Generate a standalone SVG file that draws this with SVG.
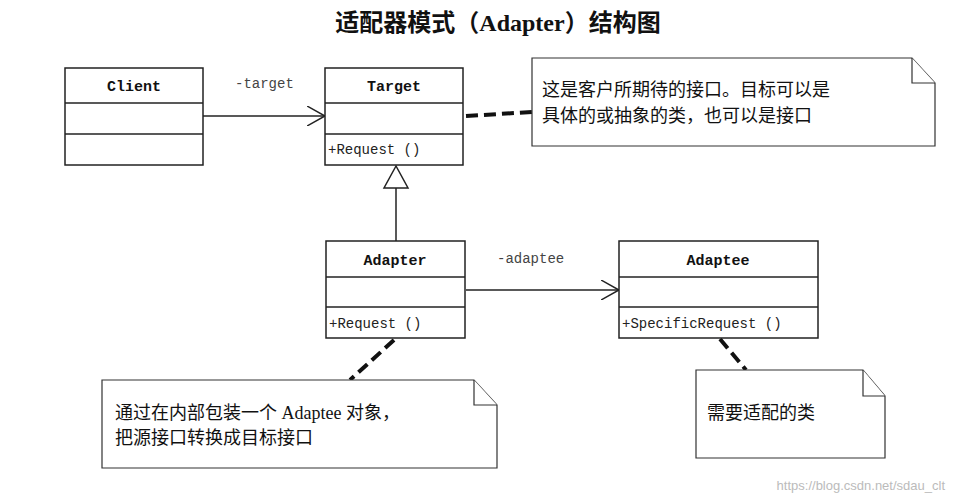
<svg xmlns="http://www.w3.org/2000/svg" width="955" height="503" viewBox="0 0 955 503">
<style>
.box{fill:#fff;stroke:#222;stroke-width:1.5}
.ln{stroke:#222;stroke-width:1.5;fill:none}
.dash{stroke:#111;stroke-width:4;stroke-dasharray:12 6;fill:none}
.cn{font-family:"Liberation Serif","Noto Sans CJK SC",serif;font-size:18px;fill:#111}
.nm{font-family:"Liberation Mono",monospace;font-size:15px;font-weight:bold;fill:#111;text-anchor:middle}
.op{font-family:"Liberation Mono",monospace;font-size:14px;fill:#222}
.lb{font-family:"Liberation Mono",monospace;font-size:14px;fill:#444}
.note{fill:#fff;stroke:#333;stroke-width:1.2}
</style>
<defs>
<marker id="open" markerWidth="20" markerHeight="20" refX="18" refY="10" orient="auto" markerUnits="userSpaceOnUse"><path d="M0,0 L18,10 L0,20" fill="none" stroke="#222" stroke-width="1.5"/></marker>
</defs>
<rect width="955" height="503" fill="#fff"/>
<text x="498" y="31" text-anchor="middle" font-family="Liberation Serif,'Noto Sans CJK SC',serif" font-size="24" font-weight="bold" fill="#111">适配器模式（Adapter）结构图</text>
<g id="connectors">
<line class="ln" x1="203" y1="116" x2="325" y2="116" marker-end="url(#open)"/>
<text class="lb" x="235" y="88">-target</text>
<line class="dash" x1="466" y1="116" x2="532" y2="112"/>
<line class="ln" x1="396" y1="188" x2="396" y2="241"/>
<path d="M396,166 L384,188 L408,188 Z" fill="#fff" stroke="#222" stroke-width="1.5"/>
<line class="ln" x1="466" y1="290" x2="619" y2="290" marker-end="url(#open)"/>
<text class="lb" x="497" y="263">-adaptee</text>
<line class="dash" x1="394" y1="340" x2="350" y2="380"/>
<line class="dash" x1="720" y1="339" x2="746" y2="370"/>
</g>
<g id="client"><rect class="box" x="65" y="68" width="138" height="97"/><line class="ln" x1="65" y1="103" x2="203" y2="103"/><line class="ln" x1="65" y1="134" x2="203" y2="134"/><text class="nm" x="134" y="91">Client</text></g>
<g id="target"><rect class="box" x="325" y="68" width="138" height="97"/><line class="ln" x1="325" y1="103" x2="463" y2="103"/><line class="ln" x1="325" y1="134" x2="463" y2="134"/><text class="nm" x="394" y="91">Target</text><text class="op" x="328" y="154">+Request ()</text></g>
<g id="adapter"><rect class="box" x="326" y="241" width="139" height="97"/><line class="ln" x1="326" y1="277" x2="465" y2="277"/><line class="ln" x1="326" y1="307" x2="465" y2="307"/><text class="nm" x="395" y="265">Adapter</text><text class="op" x="329" y="328">+Request ()</text></g>
<g id="adaptee"><rect class="box" x="619" y="241" width="199" height="97"/><line class="ln" x1="619" y1="277" x2="818" y2="277"/><line class="ln" x1="619" y1="307" x2="818" y2="307"/><text class="nm" x="718" y="265">Adaptee</text><text class="op" x="622" y="328">+SpecificRequest ()</text></g>
<g id="note1"><path class="note" d="M532,58 L912,58 L935,83 L935,146 L532,146 Z"/><path class="note" d="M912,58 L912,83 L935,83" fill="none"/><text class="cn" x="542" y="96">这是客户所期待的接口。目标可以是</text><text class="cn" x="542" y="122">具体的或抽象的类，也可以是接口</text></g>
<g id="note2"><path class="note" d="M102,380 L474,380 L497,405 L497,468 L102,468 Z"/><path class="note" d="M474,380 L474,405 L497,405" fill="none"/><text class="cn" x="115" y="419">通过在内部包装一个 Adaptee 对象，</text><text class="cn" x="115" y="444">把源接口转换成目标接口</text></g>
<g id="note3"><path class="note" d="M696,370 L863,370 L885,396 L885,458 L696,458 Z"/><path class="note" d="M863,370 L863,396 L885,396" fill="none"/><text class="cn" x="707" y="419">需要适配的类</text></g>
<text x="945" y="490" text-anchor="end" font-family="Liberation Sans,sans-serif" font-size="13" fill="#bbb">https://blog.csdn.net/sdau_clt</text>
</svg>
